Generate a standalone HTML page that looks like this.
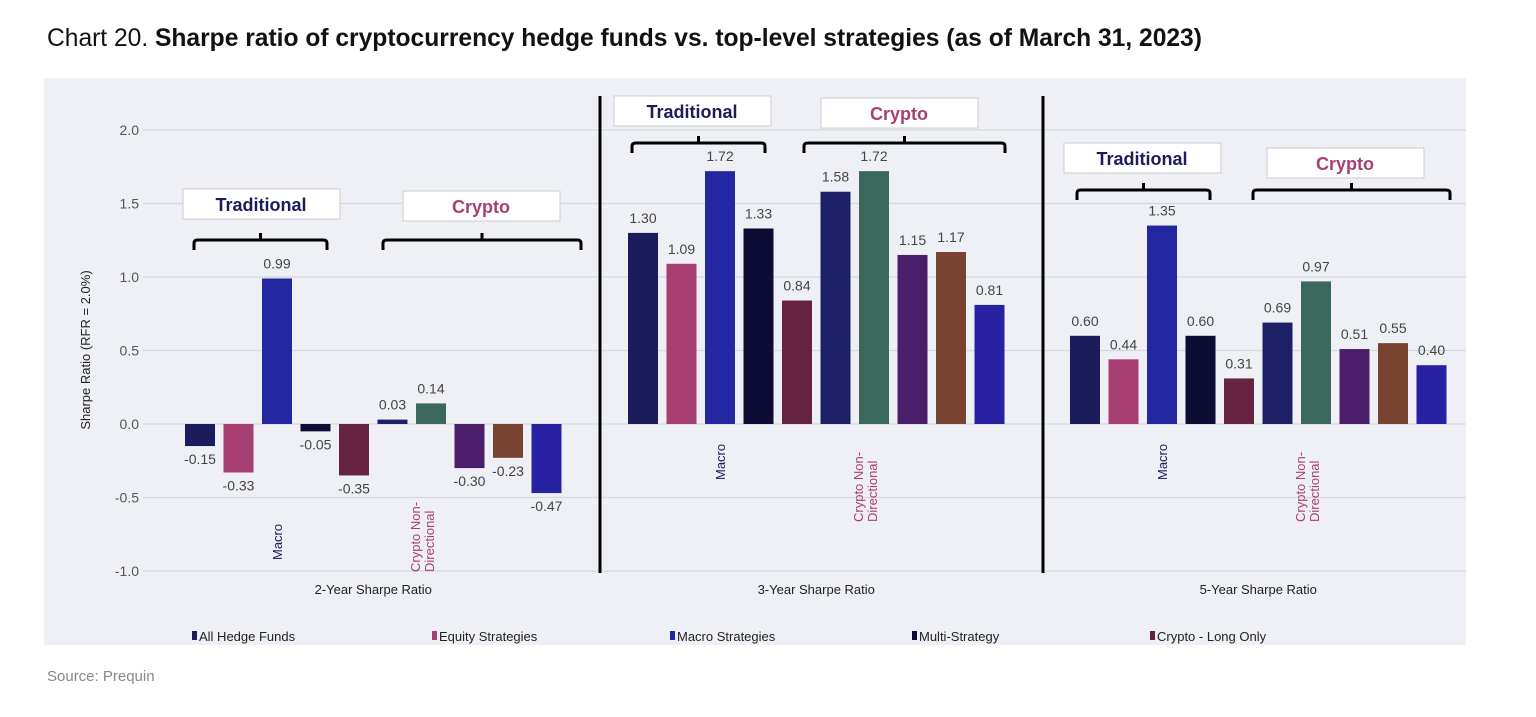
<!DOCTYPE html>
<html><head><meta charset="utf-8">
<style>
body{margin:0;background:#fff;width:1536px;height:717px;overflow:hidden;font-family:"Liberation Sans",sans-serif;}
#title{position:absolute;left:47px;top:25px;font-size:24.6px;color:#111;white-space:nowrap;}
#title b{font-weight:bold;}
#src{position:absolute;left:47px;top:668px;font-size:15px;color:#888;}
svg{position:absolute;left:0;top:0;}
</style></head><body>
<div id="title">Chart 20. <b>Sharpe ratio of cryptocurrency hedge funds vs. top-level strategies (as of March 31, 2023)</b></div>
<div id="src">Source: Prequin</div>
<svg id="chart" width="1536" height="717"></svg>
<script>
const groups=["2-Year Sharpe Ratio","3-Year Sharpe Ratio","5-Year Sharpe Ratio"];
const series=["All Hedge Funds","Equity Strategies","Macro Strategies","Multi-Strategy","Crypto - Long Only","Crypto 6","Crypto Non-Directional","Crypto 8","Crypto 9","Crypto 10"];
const values2=[-0.15,-0.33,0.99,-0.05,-0.35,0.03,0.14,-0.30,-0.23,-0.47];
const values3=[1.30,1.09,1.72,1.33,0.84,1.58,1.72,1.15,1.17,0.81];
const values5=[0.60,0.44,1.35,0.60,0.31,0.69,0.97,0.51,0.55,0.40];
const ticks=[2.0,1.5,1.0,0.5,0.0,-0.5,-1.0];
const legendItems=["All Hedge Funds","Equity Strategies","Macro Strategies","Multi-Strategy","Crypto - Long Only"];
const colors=["#1c1b5c","#a83f72","#2428a0","#0c0c35","#65233f","#1d2064","#3b685d","#4b1e6c","#7a4231","#2622a2"];
const allVals=[values2,values3,values5];
const NS="http://www.w3.org/2000/svg";
const svg=document.getElementById('chart');
function el(t,a,p){const e=document.createElementNS(NS,t);for(const k in a)e.setAttribute(k,a[k]);(p||svg).appendChild(e);return e;}
function y(v){return 424-v*147;}
const bg=el('rect',{x:44,y:78,width:1422,height:567,fill:"#eef0f6"});


ticks.forEach(t=>{
 const g=el('line',{x1:143,x2:1466,y1:y(t),y2:y(t),stroke:"#d6d8e0","stroke-width":1.2});
 
 
 const tx=el('text',{x:139,y:y(t)+5,"text-anchor":"end","font-size":14,fill:"#555"});tx.textContent=t.toFixed(1);
 
 
});
const yt=el('text',{transform:"translate(90,350) rotate(-90)","text-anchor":"middle","font-size":13,fill:"#222"});yt.textContent="Sharpe Ratio (RFR = 2.0%)";


const gStart=[185,628,1070], step=38.5, bw=30;
[600,1043].forEach(x=>{const l=el('line',{x1:x,x2:x,y1:96,y2:573,stroke:"#000","stroke-width":3});
 
 });
allVals.forEach((vals,gi)=>{
 vals.forEach((v,i)=>{
  const x=gStart[gi]+i*step;
  const r=el('rect',{x:x,y:Math.min(y(v),y(0)),width:bw,height:Math.abs(y(v)-y(0)),fill:colors[i]});
  
  
  const ly=v>=0?y(v)-10:y(v)+18;
  const lb=el('text',{x:x+bw/2,y:ly,"text-anchor":"middle","font-size":14,fill:"#444"});lb.textContent=v.toFixed(2);
  
  
 });
 const cx=gStart[gi]+4.5*step+bw/2;
 const gl=el('text',{x:cx,y:594,"text-anchor":"middle","font-size":13,fill:"#222"});gl.textContent=groups[gi];
 
 
 const mx=gStart[gi]+2*step+bw/2+5;
 const mb=gi==0?560:480;
 const m=el('text',{transform:`translate(${mx},${mb}) rotate(-90)`,"font-size":13,fill:"#1c1b5c"});m.textContent="Macro";
 
 
 const cxn=gStart[gi]+6*step+bw/2-8;
 const cb=gi==0?572:522;
 const c1=el('text',{transform:`translate(${cxn-3},${cb}) rotate(-90)`,"font-size":13,fill:"#a83f72"});c1.textContent="Crypto Non-";
 
 
 const c2=el('text',{transform:`translate(${cxn+11},${cb}) rotate(-90)`,"font-size":13,fill:"#a83f72"});c2.textContent="Directional";
 
 
});
const boxes=[[183,189,"Traditional","#1c1b5c"],[403,191,"Crypto","#a83f72"],[614,96,"Traditional","#1c1b5c"],[821,98,"Crypto","#a83f72"],[1064,143,"Traditional","#1c1b5c"],[1267,148,"Crypto","#a83f72"]];
boxes.forEach(b=>{
 const r=el('rect',{x:b[0],y:b[1],width:157,height:30,fill:"#fff",stroke:"#ccc","stroke-width":1});
 
 
 const t=el('text',{x:b[0]+78,y:b[1]+22,"text-anchor":"middle","font-size":18,"font-weight":"bold",fill:b[3]});t.textContent=b[2];
 
 
});
const braces=[[194,327,240],[383,581,240],[632,765,143],[804,1005,143],[1077,1210,190],[1253,1450,190]];
braces.forEach(b=>{
 const m=(b[0]+b[1])/2;
 const p=el('path',{d:`M${b[0]},${b[2]+10} L${b[0]},${b[2]+3} Q${b[0]},${b[2]} ${b[0]+4},${b[2]} L${m},${b[2]} L${m},${b[2]-7} M${m},${b[2]} L${b[1]-4},${b[2]} Q${b[1]},${b[2]} ${b[1]},${b[2]+3} L${b[1]},${b[2]+10}`,fill:"none",stroke:"#000","stroke-width":3});
 
 
});
const lx=[192,432,670,912,1150];
legendItems.forEach((n,i)=>{
 const r=el('rect',{x:lx[i],y:631,width:5,height:9,fill:colors[i]});
 
 
 const t=el('text',{x:lx[i]+7,y:641,"font-size":13,fill:"#222"});t.textContent=n;
 
 
});
</script>
</body></html>
